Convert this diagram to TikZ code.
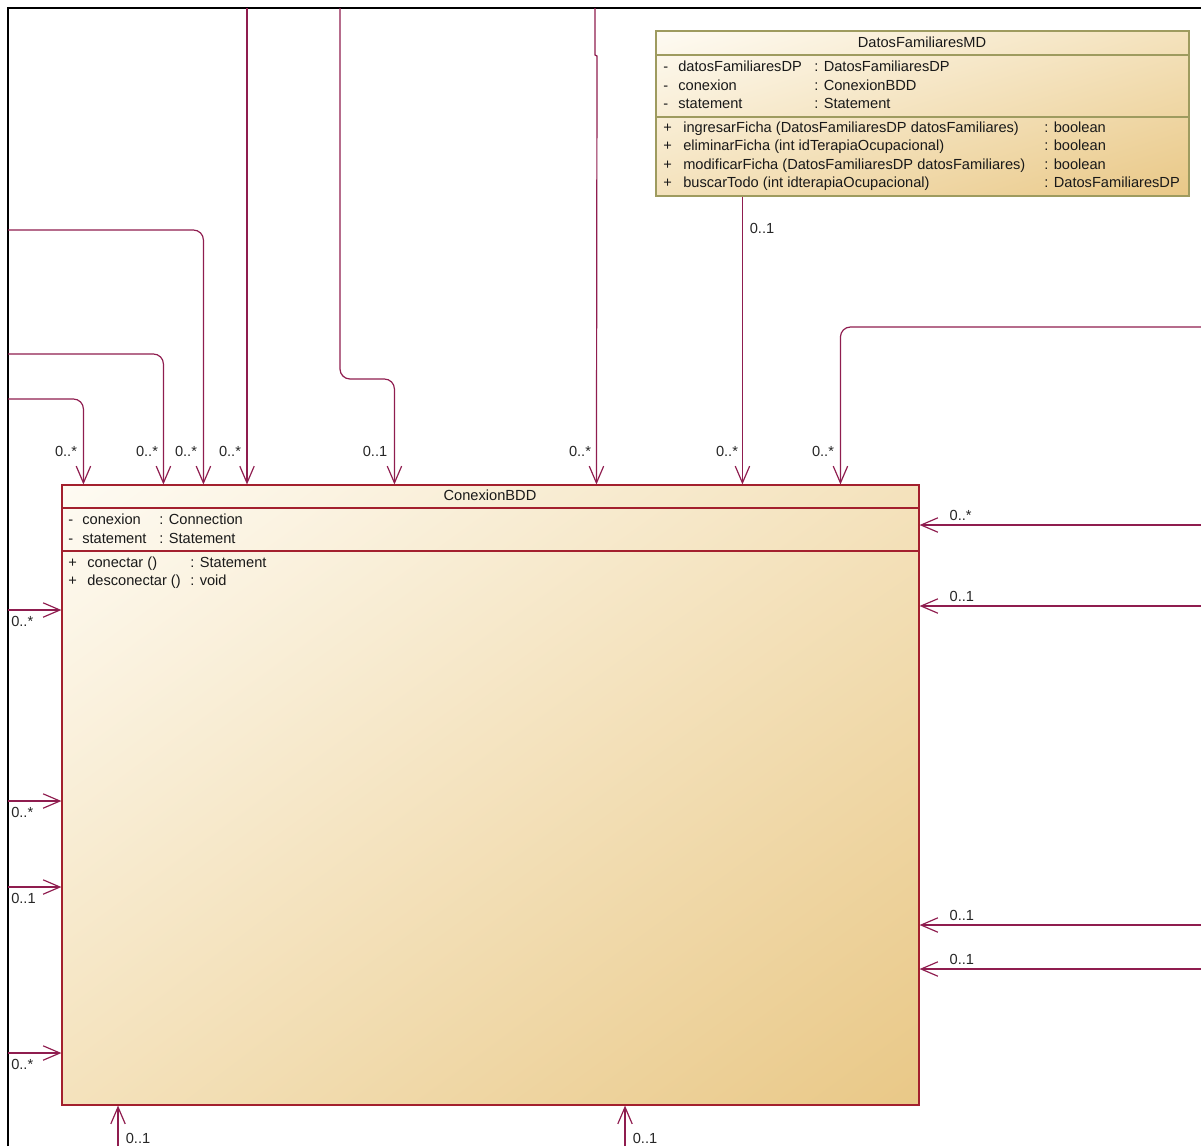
\documentclass[tikz,border=0pt]{standalone}
\usepackage{fontspec}
\setmainfont{Liberation Sans}
\usetikzlibrary{arrows.meta,positioning,calc,fit,shadings}
\definecolor{assocline}{HTML}{8F1D4F}
\definecolor{boxred}{HTML}{A3202E}
\definecolor{boxolive}{HTML}{9E9B5F}
\definecolor{creamtop}{HTML}{FEFBF3}
\definecolor{tanmid}{HTML}{F4E2BC}
\definecolor{tanbottom}{HTML}{E9C887}
\newcommand{\umlfont}{\fontsize{10.4}{12}\selectfont}
\newcommand{\classrow}[5]{\makebox[#1][l]{#3}\makebox[#2][l]{#4}#5}

\begin{document}
\begin{tikzpicture}[x=0.025cm,y=-0.025cm,
			classbox/.style={shade,upper left=creamtop,upper right=tanmid,lower left=tanmid,lower right=tanbottom,inner sep=0pt,line width=0.8pt},
			rowtext/.style={anchor=base west,inner sep=0pt,font=\umlfont,text=black!90},
			mult/.style={inner sep=0pt,font=\umlfont,text=black!85},
			assoc/.style={draw=assocline,line width=0.85pt,rounded corners=2.5mm,-{Straight Barb[length=4.2mm,width=3.6mm]}}
			]
			\useasboundingbox (0,0) rectangle (1201,1146);
			\draw[black,line width=1.3pt] (8,1146) |- (1201,8);

			% classes
			\node[classbox,draw=boxred,fit={(62,485) (919,1105)}] (conexion) {};
			\draw[boxred,line width=0.8pt] (62,508) -- (919,508) (62,551) -- (919,551);
			\node[rowtext,anchor=base] (conexion-title) at (490,500) {ConexionBDD};
			\node[rowtext] (conexion-a1) at (68,524) {\classrow{10pt}{54.8pt}{-}{conexion}{: Connection}};
			\node[rowtext] (conexion-a2) at (68,543) {\classrow{10pt}{54.8pt}{-}{statement}{: Statement}};
			\node[rowtext] (conexion-m1) at (68,567) {\classrow{13.5pt}{73.3pt}{+}{conectar ()}{: Statement}};
			\node[rowtext] (conexion-m2) at (68,585) {\classrow{13.5pt}{73.3pt}{+}{desconectar ()}{: void}};

			\node[classbox,draw=boxolive,fit={(656,31) (1189,196)}] (datos) {};
			\draw[boxolive,line width=0.8pt] (656,55) -- (1189,55) (656,117) -- (1189,117);
			\node[rowtext,anchor=base] (datos-title) at (922,47) {DatosFamiliaresMD};
			\node[rowtext] (datos-a1) at (663,71) {\classrow{10.7pt}{96.7pt}{-}{datosFamiliaresDP}{: DatosFamiliaresDP}};
			\node[rowtext] (datos-a2) at (663,90) {\classrow{10.7pt}{96.7pt}{-}{conexion}{: ConexionBDD}};
			\node[rowtext] (datos-a3) at (663,108) {\classrow{10.7pt}{96.7pt}{-}{statement}{: Statement}};
			\node[rowtext] (datos-m1) at (663,132) {\classrow{14.2pt}{256.8pt}{+}{ingresarFicha (DatosFamiliaresDP datosFamiliares)}{: boolean}};
			\node[rowtext] (datos-m2) at (663,150) {\classrow{14.2pt}{256.8pt}{+}{eliminarFicha (int idTerapiaOcupacional)}{: boolean}};
			\node[rowtext] (datos-m3) at (663,169) {\classrow{14.2pt}{256.8pt}{+}{modificarFicha (DatosFamiliaresDP datosFamiliares)}{: boolean}};
			\node[rowtext] (datos-m4) at (663,187) {\classrow{14.2pt}{256.8pt}{+}{buscarTodo (int idterapiaOcupacional)}{: DatosFamiliaresDP}};

			% associations from above
			\coordinate (in1) at (8,399);
			\coordinate (in2) at (8,354);
			\coordinate (in3) at (8,230);
			\coordinate (in4) at (247,8);
			\coordinate (in5) at (340,8);
			\coordinate (bend5) at (370,379);
			\coordinate (in6) at (595,8);
			\coordinate (in8) at (1201,327);
			\draw[assoc] (in1) -| ($(conexion.north west)+(22,0)$);
			\draw[assoc] (in2) -| ($(conexion.north west)+(102,0)$);
			\draw[assoc] (in3) -| ($(conexion.north west)+(142,0)$);
			\draw[assoc] (in4) -- (in4 |- conexion.north);
			\draw[assoc] (in5) |- (bend5) -| ($(conexion.north west)+(333,0)$);
			\draw[assoc,sharp corners] (in6) -- ++(0,47) -- ++(2,1) -- ($(conexion.north west)+(535,0)$);
			\draw[assoc] ($(datos.south west)+(87,0)$) -- ($(conexion.north west)+(681,0)$);
			\draw[assoc] (in8) -| ($(conexion.north west)+(779,0)$);
			\node[mult] (m-in1) at (66,451) {0..*};
			\node[mult] (m-in2) at (147,451) {0..*};
			\node[mult] (m-in3) at (186,451) {0..*};
			\node[mult] (m-in4) at (230,451) {0..*};
			\node[mult] (m-in5) at (375,451) {0..1};
			\node[mult] (m-in6) at (580,451) {0..*};
			\node[mult] (m-in7) at (727,451) {0..*};
			\node[mult] (m-datos) at (762,228) {0..1};
			\node[mult] (m-in8) at (823,451) {0..*};

			% associations from the right
			\coordinate (r1) at (1201,525);
			\coordinate (r2) at (1201,606);
			\coordinate (r3) at (1201,925);
			\coordinate (r4) at (1201,969);
			\foreach \r/\m in {r1/0..*,r2/0..1,r3/0..1,r4/0..1}
				\draw[assoc] (\r) -- (\r -| conexion.east) node[mult,above right=3pt and 21pt] (m-\r) {\m};

			% associations from the left
			\coordinate (l1) at (8,610);
			\coordinate (l2) at (8,801);
			\coordinate (l3) at (8,887);
			\coordinate (l4) at (8,1053);
			\foreach \l/\m in {l1/0..*,l2/0..*,l3/0..1,l4/0..*}{
				\draw[assoc] (\l) -- (\l -| conexion.west);
				\node[mult,anchor=north west] (m-\l) at ($(\l)+(3,6)$) {\m};
			}

			% associations from below
			\coordinate (b1) at (118,1146);
			\coordinate (b2) at (625,1146);
			\draw[assoc] (b1) -- (b1 |- conexion.south);
			\draw[assoc] (b2) -- (b2 |- conexion.south);
			\node[mult] (m-b1) at (138,1138) {0..1};
			\node[mult] (m-b2) at (645,1138) {0..1};
		\end{tikzpicture}
\end{document}
